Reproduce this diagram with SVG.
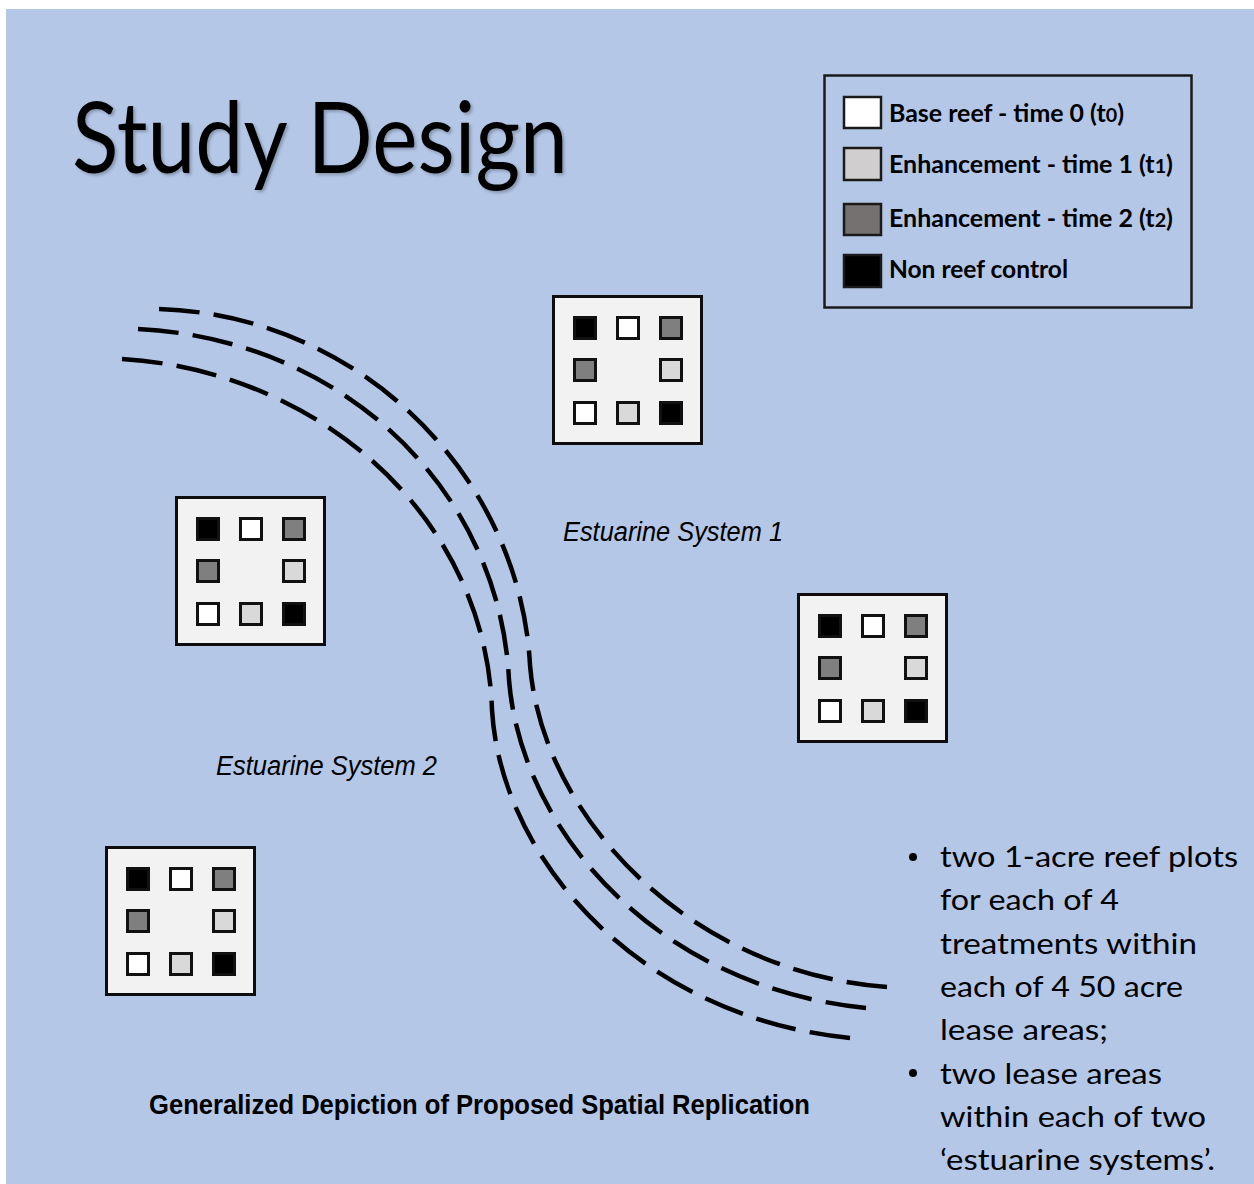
<svg xmlns="http://www.w3.org/2000/svg" width="1254" height="1184" viewBox="0 0 1254 1184">
  <style>
    .plot-frame { fill: #F2F2F2; stroke: #0d0d0d; stroke-width: 3; }
    .sq { stroke: #111; stroke-width: 3; }
    .k { fill: #000; }
    .w { fill: #fff; }
    .d { fill: #7f7f7f; }
    .l { fill: #d9d9d9; }
    .lg { stroke: #1a1a1a; stroke-width: 2.5; }
    .lgtxt { font-family: Lato, "Open Sans", "Liberation Sans", sans-serif; font-weight: bold; font-size: 24px; fill: #000; }
    .bul { font-family: Lato, "Open Sans", "Liberation Sans", sans-serif; font-size: 28px; fill: #000; }
    .est { font-family: "Liberation Sans", Arial, sans-serif; font-style: italic; font-size: 27px; fill: #000; }
    .chan { fill: none; stroke: #000; stroke-width: 4.5; stroke-dasharray: 40 14; stroke-linecap: butt; }
  </style>
  <defs>
    <filter id="shadow" x="-5%" y="-5%" width="110%" height="120%">
      <feDropShadow dx="2" dy="2" stdDeviation="1.5" flood-color="#000" flood-opacity="0.25"/>
    </filter>
    <g id="plot">
      <rect class="plot-frame" x="1.5" y="1.5" width="148" height="147"/>
      <rect class="sq k" x="22.5" y="22.5" width="21" height="21"/>
      <rect class="sq w" x="65.5" y="22.5" width="21" height="21"/>
      <rect class="sq d" x="108.5" y="22.5" width="21" height="21"/>
      <rect class="sq d" x="22.5" y="64.5" width="21" height="21"/>
      <rect class="sq l" x="108.5" y="64.5" width="21" height="21"/>
      <rect class="sq w" x="22.5" y="107.5" width="21" height="21"/>
      <rect class="sq l" x="65.5" y="107.5" width="21" height="21"/>
      <rect class="sq k" x="108.5" y="107.5" width="21" height="21"/>
    </g>
  </defs>

  <rect x="0" y="0" width="1254" height="1184" fill="#ffffff"/>
  <rect id="background" x="6" y="9" width="1248" height="1175" fill="#B4C7E7"/>

  <g id="title">
    <text x="72" y="173" font-family="Lato, 'Open Sans', 'Liberation Sans', sans-serif" font-size="98" fill="#000" textLength="496" lengthAdjust="spacingAndGlyphs" filter="url(#shadow)">Study Design</text>
  </g>

  <g id="connectors">
    <path class="chan" pathLength="1066" d="M159,309 C359,315 520,475 530,665 C542,815 687,972 887,987"/>
    <path class="chan" pathLength="1066" d="M138,329 C343,339 500,490 509,680 C521,830 656,987 866,1008"/>
    <path class="chan" pathLength="1066" d="M122,359 C320,371 486,518 492,710 C501,860 640,1017 850,1038"/>
  </g>

  <g id="plot-a" transform="translate(552,295)"><use href="#plot"/></g>
  <g id="plot-b" transform="translate(175,496)"><use href="#plot"/></g>
  <g id="plot-c" transform="translate(797,593)"><use href="#plot"/></g>
  <g id="plot-d" transform="translate(105,846)"><use href="#plot"/></g>

  <g id="legend">
    <rect x="824.5" y="75.5" width="367" height="232" fill="none" stroke="#1a1a1a" stroke-width="2.5"/>
    <rect class="lg" x="844" y="97" width="37" height="31" fill="#ffffff"/>
    <rect class="lg" x="844" y="148" width="37" height="32" fill="#D0CECE"/>
    <rect class="lg" x="844" y="204" width="37" height="31" fill="#767171"/>
    <rect class="lg" x="844" y="255" width="37" height="32" fill="#000000"/>
    <text class="lgtxt" x="889" y="122" textLength="235" lengthAdjust="spacingAndGlyphs">Base reef - time 0 (t<tspan font-size="19">0</tspan>)</text>
    <text class="lgtxt" x="889" y="173" textLength="284" lengthAdjust="spacingAndGlyphs">Enhancement - time 1 (t<tspan font-size="19">1</tspan>)</text>
    <text class="lgtxt" x="889" y="227" textLength="284" lengthAdjust="spacingAndGlyphs">Enhancement - time 2 (t<tspan font-size="19">2</tspan>)</text>
    <text class="lgtxt" x="889" y="278" textLength="179" lengthAdjust="spacingAndGlyphs">Non reef control</text>
  </g>

  <g id="label-system-1">
    <text class="est" x="563" y="541" textLength="220" lengthAdjust="spacingAndGlyphs">Estuarine System 1</text>
  </g>
  <g id="label-system-2">
    <text class="est" x="216" y="775" textLength="221" lengthAdjust="spacingAndGlyphs">Estuarine System 2</text>
  </g>

  <g id="caption">
    <text x="149" y="1114" font-family="'Liberation Sans', Arial, sans-serif" font-weight="bold" font-size="28" fill="#000" textLength="661" lengthAdjust="spacingAndGlyphs">Generalized Depiction of Proposed Spatial Replication</text>
  </g>

  <g id="notes">
    <circle cx="913" cy="857" r="4" fill="#000"/>
    <circle cx="913" cy="1073" r="4" fill="#000"/>
    <text class="bul" x="940" y="867" textLength="298" lengthAdjust="spacingAndGlyphs">two 1-acre reef plots</text>
    <text class="bul" x="940" y="910" textLength="179" lengthAdjust="spacingAndGlyphs">for each of 4</text>
    <text class="bul" x="940" y="954" textLength="257" lengthAdjust="spacingAndGlyphs">treatments within</text>
    <text class="bul" x="940" y="997" textLength="243" lengthAdjust="spacingAndGlyphs">each of 4 50 acre</text>
    <text class="bul" x="940" y="1040" textLength="168" lengthAdjust="spacingAndGlyphs">lease areas;</text>
    <text class="bul" x="940" y="1084" textLength="222" lengthAdjust="spacingAndGlyphs">two lease areas</text>
    <text class="bul" x="940" y="1127" textLength="266" lengthAdjust="spacingAndGlyphs">within each of two</text>
    <text class="bul" x="940" y="1170" textLength="275" lengthAdjust="spacingAndGlyphs">‘estuarine systems’.</text>
  </g>
</svg>
